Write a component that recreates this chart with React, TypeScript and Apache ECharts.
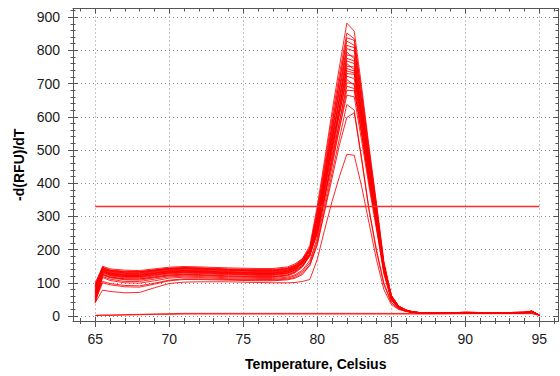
import React, { useEffect, useRef } from "react";
import * as echarts from "echarts";

// Temperatures (°C) at which each well's -d(RFU)/dT value is read
const temps = [65, 65.5, 66, 67, 68, 69, 70, 71, 72, 74, 76, 77, 78, 78.5, 79, 79.5, 80, 80.5, 81, 81.5, 82, 82.5, 83, 83.5, 84, 84.5, 85, 85.5, 86, 86.5, 87, 88, 90, 92, 94, 94.5, 95];

// Melt-curve values per well (same order as temps)
const wells: number[][] = [
  [82, 146, 137, 133, 133, 138, 143, 145, 144, 140, 138, 138, 143, 153, 172, 212, 330, 470, 615, 750, 882, 858, 690, 510, 340, 165, 62, 30, 18, 13, 10, 9, 11, 10, 11, 15, 3],
  [70, 138, 129, 124, 124, 130, 135, 137, 136, 132, 130, 130, 135, 145, 164, 203, 318, 455, 598, 728, 852, 835, 672, 500, 335, 160, 60, 29, 17, 12, 10, 9, 10, 10, 11, 14, 3],
  [95, 150, 142, 138, 137, 142, 147, 149, 148, 145, 143, 143, 148, 157, 173, 205, 290, 430, 575, 710, 838, 830, 668, 495, 330, 158, 60, 28, 17, 12, 10, 9, 11, 10, 11, 15, 3],
  [60, 132, 123, 117, 117, 123, 129, 131, 130, 126, 124, 124, 129, 139, 159, 198, 312, 445, 580, 708, 828, 815, 650, 480, 315, 150, 57, 27, 16, 11, 9, 8, 10, 9, 10, 13, 2],
  [88, 143, 135, 130, 130, 136, 141, 143, 142, 138, 136, 136, 141, 150, 167, 200, 285, 420, 560, 690, 815, 808, 648, 478, 318, 152, 58, 28, 16, 12, 10, 9, 10, 10, 11, 14, 3],
  [52, 125, 117, 111, 111, 117, 123, 125, 124, 120, 118, 118, 123, 132, 150, 185, 275, 412, 550, 680, 805, 798, 640, 470, 312, 150, 57, 27, 16, 11, 9, 8, 10, 9, 10, 13, 3],
  [75, 140, 131, 126, 126, 132, 137, 139, 138, 134, 132, 132, 137, 147, 166, 204, 305, 432, 560, 680, 795, 775, 618, 455, 300, 140, 52, 25, 15, 11, 9, 8, 10, 9, 11, 14, 3],
  [66, 133, 125, 119, 119, 125, 131, 133, 132, 128, 126, 126, 130, 138, 152, 182, 255, 385, 525, 660, 786, 782, 632, 468, 315, 158, 62, 30, 18, 12, 10, 9, 11, 10, 11, 14, 3],
  [92, 147, 139, 135, 134, 139, 144, 146, 145, 142, 140, 140, 145, 153, 169, 201, 280, 405, 535, 655, 776, 768, 615, 455, 305, 148, 57, 27, 16, 12, 10, 9, 10, 10, 11, 14, 3],
  [48, 123, 115, 109, 108, 115, 121, 123, 122, 118, 116, 116, 121, 130, 147, 181, 268, 398, 525, 648, 768, 760, 608, 450, 300, 145, 55, 26, 15, 11, 9, 8, 10, 9, 10, 13, 2],
  [72, 136, 127, 122, 122, 128, 133, 135, 134, 130, 128, 128, 133, 143, 162, 200, 300, 420, 540, 652, 760, 742, 590, 435, 288, 135, 50, 24, 15, 11, 9, 8, 10, 9, 10, 13, 3],
  [85, 141, 133, 128, 128, 134, 139, 141, 140, 136, 134, 134, 138, 146, 159, 187, 250, 372, 500, 628, 752, 750, 608, 452, 305, 155, 62, 30, 18, 12, 10, 9, 11, 10, 11, 15, 3],
  [58, 129, 121, 115, 115, 121, 127, 129, 128, 124, 122, 122, 127, 136, 154, 187, 265, 388, 512, 630, 745, 738, 590, 438, 292, 142, 55, 26, 15, 11, 9, 8, 10, 9, 10, 13, 3],
  [100, 145, 137, 133, 133, 138, 143, 145, 144, 140, 138, 138, 143, 151, 167, 197, 272, 390, 510, 625, 738, 732, 585, 432, 288, 140, 54, 26, 15, 11, 9, 9, 10, 10, 11, 14, 3],
  [42, 119, 111, 104, 104, 111, 118, 120, 119, 115, 113, 113, 117, 124, 138, 167, 235, 355, 482, 608, 730, 728, 590, 440, 298, 152, 62, 30, 18, 12, 10, 9, 11, 10, 11, 14, 3],
  [78, 137, 129, 124, 124, 130, 135, 137, 136, 132, 130, 130, 135, 144, 161, 193, 268, 382, 500, 612, 722, 715, 572, 422, 282, 138, 53, 25, 15, 11, 9, 8, 10, 9, 10, 13, 3],
  [64, 133, 124, 119, 119, 125, 130, 132, 131, 127, 125, 125, 130, 140, 159, 197, 295, 405, 510, 612, 712, 695, 552, 405, 268, 128, 48, 23, 14, 10, 9, 8, 10, 9, 10, 13, 2],
  [90, 143, 135, 130, 130, 136, 141, 143, 142, 138, 136, 136, 140, 148, 160, 186, 245, 352, 468, 585, 702, 700, 568, 422, 285, 145, 58, 28, 17, 12, 10, 9, 11, 10, 11, 14, 3],
  [55, 126, 118, 112, 112, 118, 124, 126, 125, 121, 119, 119, 124, 133, 150, 181, 255, 362, 475, 585, 692, 685, 548, 405, 272, 135, 52, 25, 15, 11, 9, 8, 10, 9, 10, 13, 3],
  [40, 116, 107, 100, 99, 106, 114, 117, 116, 112, 110, 110, 114, 121, 134, 160, 225, 335, 450, 566, 680, 678, 552, 410, 278, 142, 58, 28, 17, 12, 10, 9, 11, 10, 11, 14, 3],
  [74, 135, 127, 122, 122, 128, 133, 135, 134, 130, 128, 128, 133, 142, 158, 187, 258, 360, 462, 565, 665, 660, 528, 390, 262, 130, 50, 24, 15, 11, 9, 8, 10, 9, 10, 13, 3],
  [45, 100, 94, 88, 87, 96, 106, 110, 110, 108, 106, 106, 109, 114, 125, 152, 215, 320, 430, 535, 637, 620, 475, 322, 200, 100, 42, 22, 15, 11, 9, 8, 10, 9, 10, 13, 3],
  [50, 104, 98, 92, 91, 99, 108, 112, 112, 110, 108, 108, 111, 117, 129, 154, 215, 315, 415, 515, 598, 612, 470, 318, 195, 95, 40, 21, 14, 11, 9, 8, 10, 9, 10, 13, 3],
  [40, 78, 74, 70, 71, 85, 98, 102, 103, 103, 101, 100, 100, 101, 104, 110, 170, 260, 345, 420, 487, 484, 390, 280, 170, 80, 35, 20, 14, 11, 9, 8, 10, 9, 10, 13, 3],
  [2, 3, 3, 4, 5, 6, 7, 8, 8, 8, 8, 8, 8, 8, 8, 8, 8, 8, 8, 8, 8, 8, 8, 8, 8, 8, 8, 8, 8, 8, 8, 8, 8, 8, 8, 8, 3],
  [1, 2, 2, 3, 4, 5, 5, 6, 6, 6, 6, 6, 6, 6, 6, 6, 6, 6, 6, 6, 6, 6, 6, 6, 6, 6, 6, 6, 6, 6, 6, 6, 7, 7, 7, 7, 2],
];

// Threshold line
const thresholdTemps = [65, 95];
const thresholdValue = 330;

// Tick positions
const xMajor = [65, 70, 75, 80, 85, 90, 95];
const xMinor = [64, 65, 66, 67, 68, 69, 70, 71, 72, 73, 74, 75, 76, 77, 78, 79, 80, 81, 82, 83, 84, 85, 86, 87, 88, 89, 90, 91, 92, 93, 94, 95, 96];
const yMajor = [0, 100, 200, 300, 400, 500, 600, 700, 800, 900];
const yMinor = [0, 20, 40, 60, 80, 100, 120, 140, 160, 180, 200, 220, 240, 260, 280, 300, 320, 340, 360, 380, 400, 420, 440, 460, 480, 500, 520, 540, 560, 580, 600, 620, 640, 660, 680, 700, 720, 740, 760, 780, 800, 820, 840, 860, 880, 900, 920];

const X_MIN = 63.5;
const X_MAX = 96.3;
const Y_MIN = -15;
const Y_MAX = 926;

const AXIS_COLOR = "#555555";
const FONT = 'Arial, "Liberation Sans", sans-serif';

function hiddenAxis(min: number, max: number, position: string) {
  return {
    type: "value",
    min,
    max,
    position,
    axisLine: { show: false, onZero: false },
    axisLabel: { show: false },
    axisTick: { show: false },
    splitLine: { show: false },
  };
}

function tickAxis(min: number, max: number, position: string, values: number[], length: number, inside: boolean) {
  const a: any = hiddenAxis(min, max, position);
  a.axisTick = {
    show: true,
    customValues: values,
    length,
    inside,
    lineStyle: { color: AXIS_COLOR, width: 1 },
  };
  return a;
}

export default function App() {
  const ref = useRef<HTMLDivElement>(null);

  useEffect(() => {
    if (!ref.current) return;
    const chart = echarts.init(ref.current, null, { renderer: "svg" });

    const mainX: any = {
      type: "value",
      min: X_MIN,
      max: X_MAX,
      position: "bottom",
      axisLine: { show: true, onZero: false, lineStyle: { color: AXIS_COLOR, width: 1 } },
      axisTick: { show: true, customValues: xMajor, length: 6, inside: false, lineStyle: { color: AXIS_COLOR } },
      axisLabel: { show: true, customValues: xMajor, margin: 11, fontSize: 14, color: "#1a1a1a", fontFamily: FONT },
      splitLine: { show: true, lineStyle: { type: [1, 3], color: "#8a8a8a", width: 1 } },
      name: "Temperature, Celsius",
      nameLocation: "middle",
      nameGap: 36,
      nameTextStyle: { fontSize: 14, fontWeight: "bold", color: "#000", fontFamily: FONT },
    };
    const mainY: any = {
      type: "value",
      min: Y_MIN,
      max: Y_MAX,
      position: "left",
      axisLine: { show: true, onZero: false, lineStyle: { color: AXIS_COLOR, width: 1 } },
      axisTick: { show: true, customValues: yMajor, length: 5, inside: false, lineStyle: { color: AXIS_COLOR } },
      axisLabel: { show: true, customValues: yMajor, margin: 13, fontSize: 14, color: "#1a1a1a", fontFamily: FONT },
      splitLine: { show: true, lineStyle: { type: [1, 3], color: "#8a8a8a", width: 1 } },
      name: "-d(RFU)/dT",
      nameLocation: "middle",
      nameGap: 41,
      nameTextStyle: { fontSize: 14, fontWeight: "bold", color: "#000", fontFamily: FONT },
    };

    const topX: any = tickAxis(X_MIN, X_MAX, "top", xMajor, 5, true);
    topX.axisLine = { show: true, onZero: false, lineStyle: { color: AXIS_COLOR, width: 1 } };
    const rightY: any = tickAxis(Y_MIN, Y_MAX, "right", yMajor, 5, true);
    rightY.axisLine = { show: true, onZero: false, lineStyle: { color: AXIS_COLOR, width: 1 } };

    const series: any[] = wells.map((w, i) => ({
      type: "line",
      name: "well" + i,
      data: temps.map((t, j) => [t, w[j]]),
      showSymbol: false,
      symbol: "none",
      silent: true,
      lineStyle: { color: "#ff0000", width: 1, opacity: 0.85 },
      xAxisIndex: 0,
      yAxisIndex: 0,
    }));
    series.push({
      type: "line",
      name: "threshold",
      data: thresholdTemps.map((t) => [t, thresholdValue]),
      showSymbol: false,
      symbol: "none",
      silent: true,
      z: 5,
      lineStyle: { color: "#ff2a2a", width: 1.6 },
      xAxisIndex: 0,
      yAxisIndex: 0,
    });

    chart.setOption({
      animation: false,
      backgroundColor: "#ffffff",
      grid: { left: 73, right: 1.5, top: 8.5, bottom: 53.3, containLabel: false },
      xAxis: [
        mainX,
        tickAxis(X_MIN, X_MAX, "bottom", xMajor, 4, true),
        tickAxis(X_MIN, X_MAX, "bottom", xMinor, 3, false),
        tickAxis(X_MIN, X_MAX, "bottom", xMinor, 3, true),
        topX,
        tickAxis(X_MIN, X_MAX, "top", xMinor, 3, true),
      ],
      yAxis: [
        mainY,
        tickAxis(Y_MIN, Y_MAX, "left", yMajor, 5, true),
        tickAxis(Y_MIN, Y_MAX, "left", yMinor, 2.5, false),
        tickAxis(Y_MIN, Y_MAX, "left", yMinor, 2.5, true),
        rightY,
        tickAxis(Y_MIN, Y_MAX, "right", yMinor, 3, true),
      ],
      series,
    });

    return () => chart.dispose();
  }, []);

  return (
    <div
      ref={ref}
      style={{ position: "absolute", left: 0, top: 0, width: 560, height: 376, background: "#fff" }}
    />
  );
}
